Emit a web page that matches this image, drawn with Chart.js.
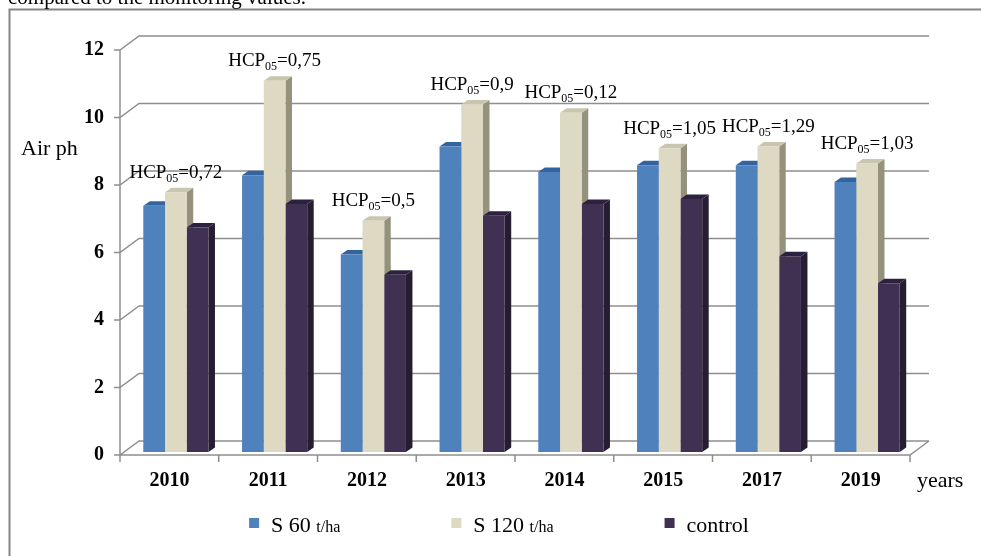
<!DOCTYPE html>
<html>
<head>
<meta charset="utf-8">
<script src="https://cdn.jsdelivr.net/npm/chart.js@4.4.1/dist/chart.umd.min.js"></script>
<style>
  html, body { margin: 0; padding: 0; background: #fff; }
  #wrap { position: relative; width: 981px; height: 556px; overflow: hidden; }
  #caption {
    position: absolute; left: 8px; top: -13px;
    font: 21px "Liberation Serif", "Times New Roman", serif; line-height: 21px;
    color: #000; white-space: nowrap;
  }
  canvas { position: absolute; left: 0; top: 0; }
</style>
</head>
<body>
<div id="wrap">
  <canvas id="chart" width="981" height="556"></canvas>
  <div id="caption">compared to the monitoring values.</div>
</div>
<script>
// data
const years = ['2010', '2011', '2012', '2013', '2014', '2015', '2017', '2019'];
const s60 = [7.3, 8.2, 5.85, 9.05, 8.3, 8.5, 8.5, 8.0];
const s120 = [7.7, 11.0, 6.85, 10.3, 10.05, 9.0, 9.05, 8.55];
const control = [6.65, 7.35, 5.25, 7.0, 7.35, 7.5, 5.8, 5.0];
const hcp = ['0,72', '0,75', '0,5', '0,9', '0,12', '1,05', '1,29', '1,03'];
const yTicks = [0, 2, 4, 6, 8, 10, 12];

const SERIF = '"Liberation Serif", "Times New Roman", serif';
const WALL_DX = 19, WALL_DY = 14;   // depth of the back wall
const BAR_DX = 6.5, BAR_DY = 3;     // bars sit a little behind the front plane
const FACE_DX = 6.5, FACE_DY = 4.5; // depth of each bar
const GRID = '#8e8e8e';

const faces = [
    { top: '#3464a0', side: '#3a6394' },
    { top: '#c9c5ae', side: '#94917c' },
    { top: '#2c2240', side: '#271d33' }
];

// 3d frame, bar side/top faces and the HCP labels
const box3d = {
    id: 'box3d',
    beforeDraw(chart) {
        const ctx = chart.ctx;
        ctx.save();
        ctx.strokeStyle = '#858585';
        ctx.lineWidth = 2;
        ctx.strokeRect(9.5, 9.5, 1100, 700);
        ctx.restore();
    },
    beforeDatasetsDraw(chart) {
        const ctx = chart.ctx;
        const y = chart.scales.y;
        const left = chart.chartArea.left, right = chart.chartArea.right;
        const y0 = y.getPixelForValue(0);
        ctx.save();
        ctx.strokeStyle = GRID;
        ctx.lineWidth = 1.5;
        ctx.beginPath();
        yTicks.forEach(v => {
            const py = y.getPixelForValue(v);
            ctx.moveTo(left - 6, py);
            ctx.lineTo(left, py);
            ctx.lineTo(left + WALL_DX, py - WALL_DY);
            ctx.lineTo(right + WALL_DX, py - WALL_DY);
        });
        // front axis and floor
        ctx.moveTo(left, y.getPixelForValue(12));
        ctx.lineTo(left, y0 + 7);
        ctx.moveTo(left, y0);
        ctx.lineTo(right, y0);
        ctx.lineTo(right + WALL_DX, y0 - WALL_DY);
        for (let i = 0; i <= years.length; i++) {
            const px = left + (right - left) * i / years.length;
            ctx.moveTo(px, y0);
            ctx.lineTo(px, y0 + 7);
        }
        ctx.stroke();
        ctx.restore();

        ctx.save();
        ctx.translate(BAR_DX, -BAR_DY);
        chart.data.datasets.forEach((ds, i) => {
            const meta = chart.getDatasetMeta(i);
            meta.data.forEach(bar => {
                const p = bar.getProps(['x', 'y', 'base', 'width'], true);
                const l = p.x - p.width / 2, r = p.x + p.width / 2;
                ctx.fillStyle = faces[i].side;
                ctx.beginPath();
                ctx.moveTo(r, p.y);
                ctx.lineTo(r + FACE_DX, p.y - FACE_DY);
                ctx.lineTo(r + FACE_DX, p.base - FACE_DY);
                ctx.lineTo(r, p.base);
                ctx.closePath();
                ctx.fill();
                ctx.fillStyle = faces[i].top;
                ctx.beginPath();
                ctx.moveTo(l, p.y);
                ctx.lineTo(l + FACE_DX, p.y - FACE_DY);
                ctx.lineTo(r + FACE_DX, p.y - FACE_DY);
                ctx.lineTo(r, p.y);
                ctx.closePath();
                ctx.fill();
            });
        });
        // stays translated while Chart.js draws the bars
    },
    afterDatasetsDraw(chart) {
        const ctx = chart.ctx;
        ctx.restore();

        // HCP labels over the middle bar of every group
        const meta = chart.getDatasetMeta(1);
        ctx.save();
        ctx.fillStyle = '#000';
        ctx.textBaseline = 'alphabetic';
        meta.data.forEach((bar, i) => {
            const p = bar.getProps(['x', 'y'], true);
            const big = '19px ' + SERIF, small = '12px ' + SERIF;
            const rest = '=' + hcp[i];
            ctx.font = big;
            const w1 = ctx.measureText('HCP').width, w3 = ctx.measureText(rest).width;
            ctx.font = small;
            const w2 = ctx.measureText('05').width;
            let px = p.x + BAR_DX - (w1 + w2 + w3) / 2;
            const base = p.y - BAR_DY - FACE_DY - 10;
            ctx.font = big;
            ctx.fillText('HCP', px, base);
            px += w1;
            ctx.font = small;
            ctx.fillText('05', px, base + 4);
            px += w2;
            ctx.font = big;
            ctx.fillText(rest, px, base);
        });

        // axis titles
        ctx.font = '22px ' + SERIF;
        ctx.fillText('Air ph', 21, 155);
        ctx.fillText('years', 917, 487);
        ctx.restore();
    },
    afterDraw(chart) {
        // legend, with the unit in a smaller size
        const ctx = chart.ctx;
        const big = '22px ' + SERIF, small = '16px ' + SERIF;
        const items = chart.data.datasets.map(ds => {
            const parts = ds.label.split(' t/ha');
            const main = parts[0] + (parts.length > 1 ? ' ' : '');
            ctx.font = big;
            const w = ctx.measureText(main).width;
            let wu = 0;
            if (parts.length > 1) { ctx.font = small; wu = ctx.measureText('t/ha').width; }
            return { main, unit: parts.length > 1, w, wu, color: ds.backgroundColor };
        });
        const gap = 111, box = 10, boxGap = 12;
        let total = 0;
        items.forEach((it, i) => { total += box + boxGap + it.w + it.wu + (i < items.length - 1 ? gap : 0); });
        let x = 499 - total / 2;
        const cy = 523;
        ctx.save();
        items.forEach(it => {
            ctx.fillStyle = it.color;
            ctx.fillRect(x, cy - box / 2, box, box);
            x += box + boxGap;
            ctx.fillStyle = '#000';
            ctx.textBaseline = 'alphabetic';
            ctx.font = big;
            ctx.fillText(it.main, x, cy + 9);
            x += it.w;
            if (it.unit) {
                ctx.font = small;
                ctx.fillText('t/ha', x, cy + 9);
                x += it.wu;
            }
            x += gap;
        });
        ctx.restore();
    }
};

const ctx = document.getElementById('chart').getContext('2d');
new Chart(ctx, {
    type: 'bar',
    data: {
        labels: years,
        datasets: [
            { label: 'S 60 t/ha', data: s60, backgroundColor: '#4f81bd', clip: false },
            { label: 'S 120 t/ha', data: s120, backgroundColor: '#ddd9c3', clip: false },
            { label: 'control', data: control, backgroundColor: '#403152', clip: false }
        ]
    },
    options: {
        responsive: false,
        animation: false,
        events: [],
        categoryPercentage: 0.66,
        barPercentage: 1,
        layout: { padding: { top: 50, right: 71, left: 0, bottom: 0 } },
        plugins: {
            legend: { display: false },
            tooltip: { enabled: false }
        },
        scales: {
            x: {
                grid: { display: false, drawTicks: false },
                border: { display: false },
                ticks: {
                    color: '#000',
                    padding: 14,
                    font: { family: SERIF, size: 20, weight: 'bold' }
                },
                afterFit: s => { s.height = 101; }
            },
            y: {
                min: 0,
                max: 12,
                grid: { display: false, drawTicks: false },
                border: { display: false },
                afterBuildTicks: s => { s.ticks = yTicks.map(v => ({ value: v })); },
                ticks: {
                    color: '#000',
                    padding: 16,
                    font: { family: SERIF, size: 20, weight: 'bold' }
                },
                afterFit: s => { s.width = 120; }
            }
        }
    },
    plugins: [box3d]
});
</script>
</body>
</html>
